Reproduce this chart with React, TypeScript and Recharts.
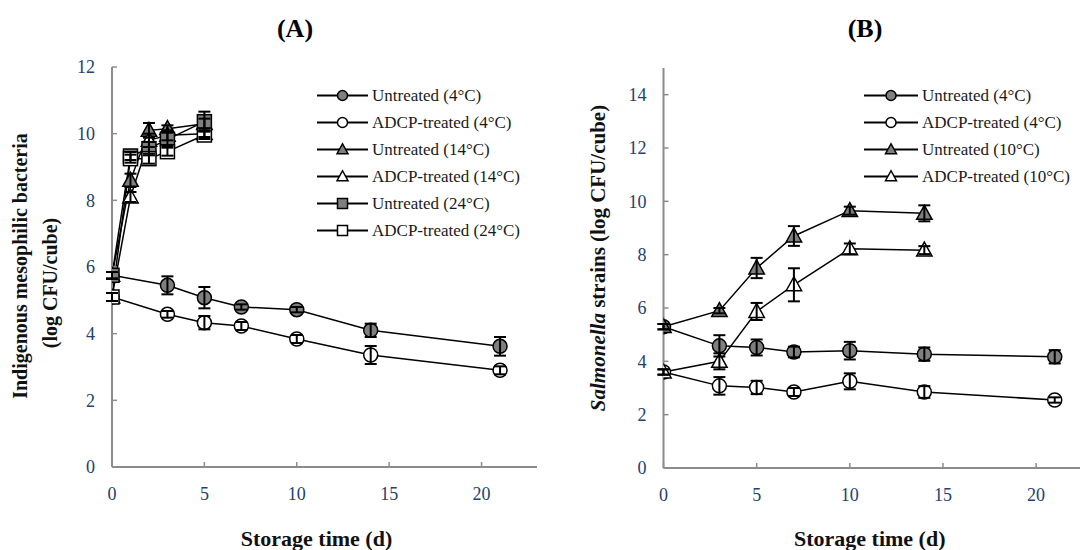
import React from 'react';
import { ComposedChart, Line, XAxis, YAxis, ErrorBar, Label } from 'recharts';

// storage days
const daysLong = [0, 3, 5, 7, 10, 14, 21];
const daysShortA = [0, 1, 2, 3, 5];
const daysShortB = [0, 3, 5, 7, 10, 14];

// (A) indigenous mesophilic bacteria
const aUntreated4 = [5.75, 5.45, 5.08, 4.8, 4.72, 4.1, 3.62];
const aUntreated4Err = [0.1, 0.27, 0.32, 0.08, 0.08, 0.2, 0.28];
const aAdcp4 = [5.1, 4.58, 4.33, 4.23, 3.84, 3.36, 2.9];
const aAdcp4Err = [0.12, 0.1, 0.2, 0.12, 0.12, 0.27, 0.12];
const aUntreated14 = [5.75, 8.6, 10.1, 10.15, 10.3];
const aUntreated14Err = [0.1, 0.2, 0.22, 0.1, 0.15];
const aAdcp14 = [5.1, 8.1, 9.8, 9.95, 10.0];
const aAdcp14Err = [0.12, 0.15, 0.2, 0.15, 0.1];
const aUntreated24 = [5.75, 9.33, 9.55, 9.83, 10.36];
const aUntreated24Err = [0.1, 0.12, 0.2, 0.2, 0.3];
const aAdcp24 = [5.1, 9.25, 9.25, 9.46, 9.96];
const aAdcp24Err = [0.12, 0.12, 0.15, 0.12, 0.12];

// (B) Salmonella strains
const bUntreated4 = [5.3, 4.58, 4.52, 4.35, 4.4, 4.27, 4.17];
const bUntreated4Err = [0.1, 0.4, 0.3, 0.2, 0.33, 0.25, 0.25];
const bAdcp4 = [3.6, 3.08, 3.02, 2.85, 3.25, 2.85, 2.55];
const bAdcp4Err = [0.1, 0.33, 0.25, 0.15, 0.3, 0.22, 0.1];
const bUntreated10 = [5.3, 5.9, 7.5, 8.7, 9.65, 9.55];
const bUntreated10Err = [0.1, 0.1, 0.38, 0.37, 0.15, 0.3];
const bAdcp10 = [3.6, 4.0, 5.87, 6.87, 8.22, 8.17];
const bAdcp10Err = [0.1, 0.3, 0.32, 0.62, 0.2, 0.15];

const xTicks = [0, 5, 10, 15, 20];
const yTicksA = [0, 2, 4, 6, 8, 10, 12];
const yTicksB = [0, 2, 4, 6, 8, 10, 12, 14];

const SERIF = '"Liberation Serif", "Times New Roman", serif';
const TICK = '#23406e';
const GRAY = '#7f7f7f';
const AXIS = '#8c8c8c';

type Shape = 'circle' | 'triangle' | 'square';
interface Series {
  name: string;
  shape: Shape;
  filled: boolean;
  data: { day: number; v: number; err: number }[];
}

const build = (days: number[], vals: number[], errs: number[]) =>
  days.map((d, i) => ({ day: d, v: vals[i], err: errs[i] }));

const seriesA: Series[] = [
  { name: 'Untreated (4°C)', shape: 'circle', filled: true, data: build(daysLong, aUntreated4, aUntreated4Err) },
  { name: 'ADCP-treated (4°C)', shape: 'circle', filled: false, data: build(daysLong, aAdcp4, aAdcp4Err) },
  { name: 'Untreated (14°C)', shape: 'triangle', filled: true, data: build(daysShortA, aUntreated14, aUntreated14Err) },
  { name: 'ADCP-treated (14°C)', shape: 'triangle', filled: false, data: build(daysShortA, aAdcp14, aAdcp14Err) },
  { name: 'Untreated (24°C)', shape: 'square', filled: true, data: build(daysShortA, aUntreated24, aUntreated24Err) },
  { name: 'ADCP-treated (24°C)', shape: 'square', filled: false, data: build(daysShortA, aAdcp24, aAdcp24Err) },
];

const seriesB: Series[] = [
  { name: 'Untreated (4°C)', shape: 'circle', filled: true, data: build(daysLong, bUntreated4, bUntreated4Err) },
  { name: 'ADCP-treated (4°C)', shape: 'circle', filled: false, data: build(daysLong, bAdcp4, bAdcp4Err) },
  { name: 'Untreated (10°C)', shape: 'triangle', filled: true, data: build(daysShortB, bUntreated10, bUntreated10Err) },
  { name: 'ADCP-treated (10°C)', shape: 'triangle', filled: false, data: build(daysShortB, bAdcp10, bAdcp10Err) },
];

const Marker = ({ cx, cy, shape, filled, r }: { cx: number; cy: number; shape: Shape; filled: boolean; r: number }) => {
  const fill = filled ? GRAY : '#fff';
  if (cx == null || cy == null) return null;
  if (shape === 'circle') return <circle cx={cx} cy={cy} r={r} fill={fill} stroke="#000" strokeWidth={1.5} />;
  if (shape === 'square')
    return <rect x={cx - r} y={cy - r} width={2 * r} height={2 * r} fill={fill} stroke="#000" strokeWidth={1.5} />;
  const pts = `${cx},${cy - r * 1.15} ${cx - r * 1.1},${cy + r * 0.85} ${cx + r * 1.1},${cy + r * 0.85}`;
  return <polygon points={pts} fill={fill} stroke="#000" strokeWidth={1.5} />;
};

const LegendBox = ({ items, left, top, lineWidth }: { items: Series[]; left: number; top: number; lineWidth: number }) => (
  <div style={{ position: 'absolute', left, top, fontFamily: SERIF, fontSize: 17, color: '#1a1a1a' }}>
    {items.map((s) => (
      <div key={s.name} style={{ display: 'flex', alignItems: 'center', height: 27 }}>
        <svg width={lineWidth + 4} height={27} style={{ flex: 'none' }}>
          <line x1={0} y1={13.5} x2={lineWidth} y2={13.5} stroke="#000" strokeWidth={2} />
          <Marker cx={lineWidth / 2} cy={13.5} shape={s.shape} filled={s.filled} r={5} />
        </svg>
        <span style={{ whiteSpace: 'nowrap' }}>{s.name}</span>
      </div>
    ))}
  </div>
);

const xLabel = (props: any) => {
  const vb = props.viewBox;
  return (
    <text x={vb.x + vb.width / 2 - 8} y={546} textAnchor="middle" fontFamily={SERIF} fontWeight="bold" fontSize={22} fill="#111">
      Storage time (d)
    </text>
  );
};

const yLabelA = () => (
  <g fontFamily={SERIF} fontWeight="bold" fontSize={20} fill="#111">
    <text transform="translate(27,266) rotate(-90)" textAnchor="middle">Indigenous mesophilic bacteria</text>
    <text transform="translate(57,283) rotate(-90)" textAnchor="middle">(log CFU/cube)</text>
  </g>
);

const yLabelB = () => (
  <g fontFamily={SERIF} fontWeight="bold" fontSize={21} fill="#111">
    <text transform="translate(45,258) rotate(-90)" textAnchor="middle">
      <tspan fontStyle="italic">Salmonella</tspan> strains (log CFU/cube)
    </text>
  </g>
);

const Panel = ({
  series, width, yDomain, yTicks, yAxisWidth, top, xHeight, right, yLabel,
}: {
  series: Series[]; width: number; yDomain: number[]; yTicks: number[]; yAxisWidth: number;
  top: number; xHeight: number; right: number; yLabel: (p: any) => any;
}) => (
  <ComposedChart width={width} height={550} margin={{ top, right, bottom: 0, left: 0 }}>
    <XAxis
      dataKey="day" type="number" domain={[0, 23]} ticks={xTicks} height={xHeight} allowDataOverflow
      axisLine={{ stroke: AXIS, strokeWidth: 2 }} tickLine={{ stroke: AXIS, strokeWidth: 1.5 }}
      tickSize={-5} tickMargin={25} tick={{ fill: TICK, fontSize: 18, fontFamily: SERIF }}
    >
      <Label content={xLabel} />
    </XAxis>
    <XAxis
      xAxisId="top" orientation="top" type="number" domain={[0, 23]} height={0}
      tick={false} tickLine={false} axisLine={{ stroke: '#000', strokeWidth: 2 }}
    />
    <YAxis
      type="number" domain={yDomain} ticks={yTicks} width={yAxisWidth} interval={0}
      axisLine={{ stroke: AXIS, strokeWidth: 2 }} tickLine={{ stroke: AXIS, strokeWidth: 1.5 }}
      tickSize={-5} tickMargin={22} tick={{ fill: TICK, fontSize: 18, fontFamily: SERIF }}
    >
      <Label content={yLabel} />
    </YAxis>
    <YAxis
      yAxisId="r" orientation="right" width={0} domain={yDomain}
      tick={false} tickLine={false} axisLine={{ stroke: '#000', strokeWidth: 2 }}
    />
    {series.map((s) => (
      <Line
        key={s.name} data={s.data} dataKey="v" name={s.name} type="linear"
        stroke="#000" strokeWidth={1.5} isAnimationActive={false}
        dot={(p: any) => <Marker key={`${s.name}-${p.index}`} cx={p.cx} cy={p.cy} shape={s.shape} filled={s.filled} r={7} />}
        activeDot={false}
      >
        {/* @ts-ignore zIndex lifts the bars above the markers, as in the original */}
        <ErrorBar dataKey="err" width={6} stroke="#000" strokeWidth={2} direction="y" zIndex={1500} />
      </Line>
    ))}
  </ComposedChart>
);

export default function App() {
  return (
    <div style={{ position: 'absolute', left: 0, top: 0, width: 1080, height: 550, overflow: 'hidden', background: '#fff' }}>
      <div style={{ position: 'absolute', left: 0, top: 0 }}>
        <Panel
          series={seriesA} width={560} yDomain={[0, 12]} yTicks={yTicksA} yAxisWidth={112}
          top={67} xHeight={83} right={23} yLabel={yLabelA}
        />
      </div>
      <div style={{ position: 'absolute', left: 560, top: 0 }}>
        <Panel
          series={seriesB} width={540} yDomain={[0, 15]} yTicks={yTicksB} yAxisWidth={103.5}
          top={68} xHeight={82} right={8} yLabel={yLabelB}
        />
      </div>
      <LegendBox items={seriesA} left={317} top={82} lineWidth={51} />
      <LegendBox items={seriesB} left={864} top={82} lineWidth={54} />
      <div style={{ position: 'absolute', left: 245, top: 14, width: 100, textAlign: 'center', fontFamily: SERIF, fontWeight: 'bold', fontSize: 26 }}>
        (A)
      </div>
      <div style={{ position: 'absolute', left: 815, top: 14, width: 100, textAlign: 'center', fontFamily: SERIF, fontWeight: 'bold', fontSize: 26 }}>
        (B)
      </div>
    </div>
  );
}
